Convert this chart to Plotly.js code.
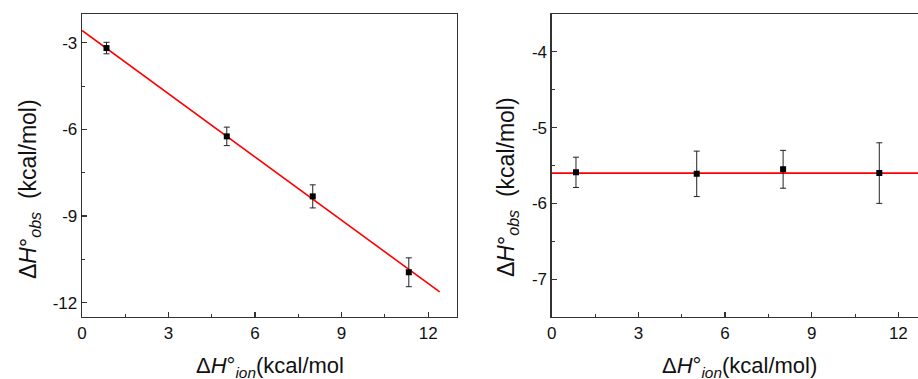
<!DOCTYPE html>
<html>
<head>
<meta charset="utf-8">
<script src="https://cdn.plot.ly/plotly-3.0.1.min.js"></script>
<style>html,body{margin:0;padding:0;background:#fff;}#chart{width:918px;height:379px;}</style>
</head>
<body>
<div id="chart"></div>
<script>
// Left panel data
const leftX = [0.85, 5.02, 8.0, 11.33];
const leftY = [-3.18, -6.24, -8.32, -10.95];
const leftErr = [0.2, 0.32, 0.4, 0.5];
const leftFitX = [0, 12.4];
const leftFitY = [-2.57, -11.63];

// Right panel data
const rightX = [0.84, 5.02, 8.01, 11.34];
const rightY = [-5.59, -5.61, -5.55, -5.60];
const rightErr = [0.2, 0.3, 0.25, 0.4];
const rightFitX = [0, 13];
const rightFitY = [-5.6, -5.6];

// Tick labels
const xTicks = [0, 3, 6, 9, 12];
const xTickText = ['0', '3', '6', '9', '12'];
const leftYTicks = [-3, -6, -9, -12];
const leftYTickText = ['-3', '-6', '-9', '-12'];
const rightYTicks = [-4, -5, -6, -7];
const rightYTickText = ['-4', '-5', '-6', '-7'];

// Titles
const yTitle = 'Δ<i>H</i>°<sub><i>obs</i></sub>&nbsp; (kcal/mol)';
const leftXTitle = 'Δ<i>H</i>°<sub><i>ion</i></sub>(kcal/mol';
const rightXTitle = 'Δ<i>H</i>°<sub><i>ion</i></sub>(kcal/mol)';

const FONT = 'Liberation Sans, Arial, sans-serif';
const AX = '#333333';
const W = 918, H = 379;

function pointTrace(x, y, e, xa, ya) {
  return {
    x: x, y: y, xaxis: xa, yaxis: ya, type: 'scatter', mode: 'markers',
    marker: {symbol: 'square', size: 6, color: '#000'},
    error_y: {type: 'data', array: e, visible: true, color: '#222', thickness: 1, width: 3},
    showlegend: false, hoverinfo: 'x+y'
  };
}
function lineTrace(x, y, xa, ya) {
  return {
    x: x, y: y, xaxis: xa, yaxis: ya, type: 'scatter', mode: 'lines',
    line: {color: '#ff0000', width: 1.6}, showlegend: false, hoverinfo: 'skip'
  };
}

const data = [
  lineTrace(leftFitX, leftFitY, 'x', 'y'),
  pointTrace(leftX, leftY, leftErr, 'x', 'y'),
  lineTrace(rightFitX, rightFitY, 'x2', 'y2'),
  pointTrace(rightX, rightY, rightErr, 'x2', 'y2')
];

function xAxis(domain, anchor, range) {
  return {
    domain: domain, anchor: anchor, range: range,
    showline: true, linecolor: AX, linewidth: 1.3, mirror: true,
    ticks: 'inside', ticklen: 5, tickwidth: 1.2, tickcolor: AX,
    tickvals: xTicks, ticktext: xTickText,
    minor: {ticks: 'inside', ticklen: 3, tickwidth: 1, tickcolor: AX, tick0: 0, dtick: 1.5, showgrid: false},
    showgrid: false, zeroline: false,
    tickfont: {family: FONT, size: 17, color: '#111'}
  };
}
function yAxis(domain, anchor, range, vals, text, tick0, minorDtick, mirror) {
  return {
    domain: domain, anchor: anchor, range: range,
    showline: true, linecolor: AX, linewidth: 1.3, mirror: mirror,
    ticks: 'inside', ticklen: 5, tickwidth: 1.2, tickcolor: AX,
    tickvals: vals, ticktext: text,
    minor: {ticks: 'inside', ticklen: 3, tickwidth: 1, tickcolor: AX, tick0: tick0, dtick: minorDtick, showgrid: false},
    showgrid: false, zeroline: false,
    tickfont: {family: FONT, size: 17, color: '#111'}
  };
}

function yTitleAnn(px, py) {
  return {
    xref: 'paper', yref: 'paper', x: px / W, y: 1 - py / H,
    xanchor: 'center', yanchor: 'middle', textangle: -90, showarrow: false,
    text: yTitle, font: {family: FONT, size: 23, color: '#111'}
  };
}
function xTitleAnn(text, px, pyTop) {
  return {
    xref: 'paper', yref: 'paper', x: px / W, y: 1 - pyTop / H,
    xanchor: 'center', yanchor: 'top', showarrow: false,
    text: text, font: {family: FONT, size: 22, color: '#111'}
  };
}

const layout = {
  width: W, height: H,
  margin: {l: 0, r: 0, t: 0, b: 0},
  paper_bgcolor: '#ffffff', plot_bgcolor: '#ffffff',
  font: {family: FONT, color: '#111'},
  xaxis: xAxis([0.0893, 0.4978], 'y', [0, 13]),
  yaxis: yAxis([0.1636, 0.963], 'x', [-12.5, -2], leftYTicks, leftYTickText, -3, 1.5, true),
  xaxis2: xAxis([0.601, 1.0], 'y2', [0, 12.68]),
  yaxis2: yAxis([0.1636, 0.963], 'x2', [-7.5, -3.5], rightYTicks, rightYTickText, -4, 0.5, false),
  annotations: [
    yTitleAnn(29, 189), yTitleAnn(507, 187),
    xTitleAnn(leftXTitle, 270, 351), xTitleAnn(rightXTitle, 739, 351)
  ]
};

Plotly.newPlot('chart', data, layout, {staticPlot: true, displayModeBar: false});
</script>
</body>
</html>
